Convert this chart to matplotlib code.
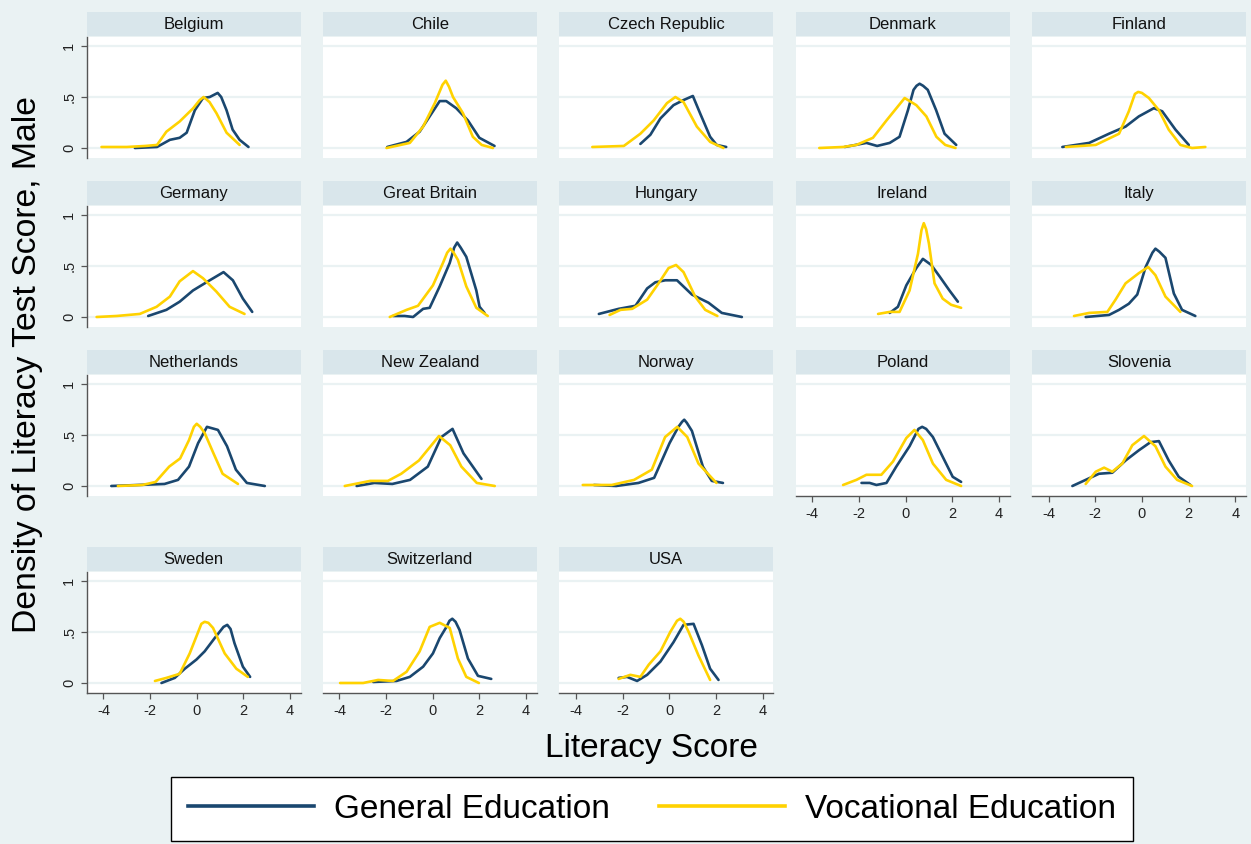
import matplotlib
matplotlib.use("Agg")
import matplotlib.pyplot as plt
from matplotlib.lines import Line2D
from matplotlib.patches import Rectangle

plt.rcParams["font.family"] = ["Liberation Sans", "DejaVu Sans"]

# ---------------- data ----------------
countries = ["Belgium", "Chile", "Czech Republic", "Denmark", "Finland",
             "Germany", "Great Britain", "Hungary", "Ireland", "Italy",
             "Netherlands", "New Zealand", "Norway", "Poland", "Slovenia",
             "Sweden", "Switzerland", "USA"]

general = {
    "Belgium": ([-2.65, -1.7, -1.15, -0.73, -0.43, -0.08, 0.27, 0.56, 0.9, 1.05, 1.28, 1.54, 1.84, 2.22],
                [0.0, 0.01, 0.08, 0.10, 0.15, 0.37, 0.49, 0.50, 0.54, 0.50, 0.37, 0.18, 0.08, 0.01]),
    "Chile": ([-1.95, -1.12, -0.56, -0.13, 0.30, 0.58, 1.01, 1.51, 2.0, 2.65],
              [0.01, 0.06, 0.16, 0.31, 0.46, 0.46, 0.39, 0.27, 0.10, 0.02]),
    "Czech Republic": ([-1.24, -0.81, -0.38, 0.18, 0.61, 1.01, 1.32, 1.75, 2.03, 2.44],
                       [0.04, 0.13, 0.29, 0.42, 0.47, 0.51, 0.34, 0.11, 0.03, 0.01]),
    "Denmark": ([-2.61, -1.68, -1.22, -0.68, -0.26, 0.10, 0.34, 0.47, 0.6, 0.75, 0.95, 1.31, 1.67, 2.17],
                [0.01, 0.05, 0.02, 0.05, 0.11, 0.37, 0.57, 0.61, 0.63, 0.61, 0.57, 0.37, 0.14, 0.03]),
    "Finland": ([-3.41, -2.26, -1.41, -0.70, -0.13, 0.51, 0.87, 1.44, 2.01],
                [0.01, 0.05, 0.14, 0.21, 0.31, 0.39, 0.36, 0.18, 0.03]),
    "Germany": ([-2.08, -1.30, -0.73, -0.16, 0.56, 1.15, 1.55, 1.98, 2.38],
                [0.01, 0.07, 0.15, 0.26, 0.36, 0.44, 0.36, 0.18, 0.05]),
    "Great Britain": ([-1.70, -1.2, -0.84, -0.41, -0.13, 0.30, 0.73, 0.92, 1.05, 1.2, 1.44, 1.87, 2.01, 2.22],
                      [0.01, 0.01, 0.0, 0.08, 0.09, 0.30, 0.53, 0.68, 0.73, 0.68, 0.59, 0.26, 0.10, 0.04]),
    "Hungary": ([-3.02, -2.17, -1.45, -0.95, -0.60, -0.17, 0.33, 0.97, 1.68, 2.25, 3.11],
                [0.03, 0.08, 0.11, 0.28, 0.34, 0.36, 0.36, 0.22, 0.14, 0.04, 0.0]),
    "Ireland": ([-0.68, -0.33, 0.03, 0.46, 0.74, 1.10, 1.45, 1.88, 2.24],
                [0.04, 0.10, 0.31, 0.48, 0.57, 0.51, 0.40, 0.26, 0.15]),
    "Italy": ([-2.41, -1.41, -0.98, -0.56, -0.20, 0.16, 0.45, 0.58, 0.75, 1.01, 1.37, 1.72, 2.29],
              [0.0, 0.02, 0.07, 0.13, 0.22, 0.49, 0.63, 0.67, 0.64, 0.58, 0.23, 0.07, 0.01]),
    "Netherlands": ([-3.66, -1.38, -0.80, -0.33, 0.06, 0.44, 0.91, 1.30, 1.68, 2.15, 2.92],
                    [0.0, 0.02, 0.06, 0.19, 0.42, 0.58, 0.55, 0.39, 0.16, 0.03, 0.0]),
    "New Zealand": ([-3.26, -2.50, -1.73, -0.97, -0.21, 0.37, 0.85, 1.32, 2.09],
                    [0.0, 0.03, 0.02, 0.06, 0.19, 0.48, 0.56, 0.32, 0.07]),
    "Norway": ([-3.23, -2.28, -1.32, -0.65, 0.01, 0.39, 0.55, 0.64, 0.75, 0.97, 1.44, 1.82, 2.30],
               [0.01, 0.0, 0.03, 0.08, 0.42, 0.58, 0.63, 0.65, 0.62, 0.54, 0.19, 0.05, 0.03]),
    "Poland": ([-1.89, -1.54, -1.25, -0.82, -0.40, 0.17, 0.55, 0.71, 0.88, 1.17, 1.67, 2.02, 2.38],
               [0.03, 0.03, 0.01, 0.03, 0.19, 0.39, 0.56, 0.58, 0.56, 0.48, 0.25, 0.09, 0.04]),
    "Slovenia": ([-2.98, -2.41, -1.84, -1.27, -0.70, -0.13, 0.37, 0.73, 1.15, 1.58, 2.08],
                 [0.0, 0.06, 0.12, 0.13, 0.25, 0.35, 0.43, 0.44, 0.25, 0.09, 0.01]),
    "Sweden": ([-1.51, -0.94, -0.51, -0.01, 0.34, 0.77, 1.15, 1.31, 1.45, 1.62, 1.98, 2.29],
               [0.0, 0.05, 0.14, 0.23, 0.31, 0.44, 0.55, 0.57, 0.53, 0.39, 0.16, 0.06]),
    "Switzerland": ([-2.55, -1.55, -0.98, -0.41, 0.01, 0.30, 0.59, 0.72, 0.84, 0.98, 1.15, 1.51, 1.94, 2.51],
                    [0.01, 0.02, 0.06, 0.16, 0.29, 0.44, 0.55, 0.61, 0.63, 0.60, 0.52, 0.24, 0.07, 0.04]),
    "USA": ([-2.17, -1.81, -1.38, -0.95, -0.38, 0.18, 0.61, 1.04, 1.40, 1.75, 2.11],
            [0.05, 0.06, 0.02, 0.08, 0.21, 0.40, 0.57, 0.58, 0.37, 0.14, 0.03]),
}

vocational = {
    "Belgium": ([-4.08, -3.0, -2.2, -1.7, -1.3, -0.73, -0.15, 0.13, 0.3, 0.55, 0.85, 1.28, 1.84],
                [0.01, 0.01, 0.02, 0.03, 0.16, 0.26, 0.39, 0.47, 0.50, 0.45, 0.34, 0.15, 0.03]),
    "Chile": ([-1.98, -0.98, -0.41, 0.09, 0.42, 0.56, 0.70, 0.87, 1.3, 1.72, 2.1, 2.58],
              [0.0, 0.05, 0.21, 0.44, 0.62, 0.66, 0.60, 0.50, 0.34, 0.11, 0.03, 0.0]),
    "Czech Republic": ([-3.30, -1.95, -1.24, -0.67, -0.10, 0.26, 0.61, 1.18, 1.75, 2.32],
                       [0.01, 0.02, 0.14, 0.27, 0.44, 0.50, 0.45, 0.21, 0.06, 0.0]),
    "Denmark": ([-3.70, -2.68, -2.11, -1.40, -0.82, -0.04, 0.46, 0.89, 1.32, 1.7, 2.14],
                [0.0, 0.01, 0.03, 0.10, 0.27, 0.49, 0.42, 0.31, 0.11, 0.03, 0.0]),
    "Finland": ([-3.26, -1.98, -0.98, -0.56, -0.30, -0.16, 0.0, 0.30, 0.73, 1.15, 1.65, 2.15, 2.72],
                [0.01, 0.03, 0.14, 0.36, 0.53, 0.55, 0.54, 0.49, 0.37, 0.18, 0.03, 0.0, 0.01]),
    "Germany": ([-4.29, -3.43, -2.44, -1.72, -1.15, -0.73, -0.16, 0.27, 0.84, 1.41, 2.05],
                [0.0, 0.01, 0.03, 0.10, 0.20, 0.35, 0.45, 0.38, 0.25, 0.10, 0.03]),
    "Great Britain": ([-1.84, -1.12, -0.63, 0.01, 0.44, 0.62, 0.76, 0.9, 1.08, 1.44, 1.87, 2.36],
                      [0.0, 0.07, 0.11, 0.31, 0.53, 0.63, 0.67, 0.63, 0.56, 0.30, 0.09, 0.01]),
    "Hungary": ([-2.56, -2.09, -1.59, -0.95, -0.46, -0.03, 0.29, 0.61, 1.11, 1.54, 2.06],
                [0.02, 0.07, 0.08, 0.17, 0.33, 0.48, 0.51, 0.44, 0.20, 0.07, 0.01]),
    "Ireland": ([-1.18, -0.68, -0.26, 0.17, 0.53, 0.68, 0.78, 0.88, 1.0, 1.24, 1.59, 1.95, 2.38],
                [0.03, 0.05, 0.05, 0.26, 0.62, 0.85, 0.92, 0.86, 0.72, 0.33, 0.18, 0.12, 0.09]),
    "Italy": ([-2.91, -2.26, -1.48, -1.13, -0.70, -0.13, 0.27, 0.58, 1.01, 1.65],
              [0.01, 0.04, 0.05, 0.17, 0.33, 0.43, 0.49, 0.41, 0.20, 0.05]),
    "Netherlands": ([-3.38, -2.33, -1.76, -1.18, -0.71, -0.33, -0.12, 0.0, 0.15, 0.34, 0.72, 1.11, 1.77],
                    [0.0, 0.01, 0.04, 0.19, 0.27, 0.45, 0.58, 0.61, 0.58, 0.52, 0.32, 0.12, 0.02]),
    "New Zealand": ([-3.77, -2.68, -1.92, -1.35, -0.59, 0.27, 0.75, 1.23, 1.89, 2.66],
                    [0.0, 0.05, 0.05, 0.12, 0.25, 0.49, 0.40, 0.19, 0.03, 0.0]),
    "Norway": ([-3.71, -2.47, -1.51, -0.75, -0.18, 0.34, 0.77, 1.25, 2.02],
               [0.01, 0.01, 0.06, 0.16, 0.48, 0.58, 0.48, 0.22, 0.03]),
    "Poland": ([-2.68, -2.11, -1.68, -1.04, -0.54, 0.03, 0.38, 0.74, 1.17, 1.74, 2.38],
               [0.01, 0.06, 0.11, 0.11, 0.24, 0.47, 0.55, 0.45, 0.22, 0.06, 0.0]),
    "Slovenia": ([-2.41, -1.98, -1.62, -1.27, -0.84, -0.41, 0.09, 0.58, 1.01, 1.51, 2.15],
                 [0.02, 0.14, 0.18, 0.14, 0.22, 0.40, 0.49, 0.39, 0.19, 0.06, 0.0]),
    "Sweden": ([-1.79, -1.30, -0.73, -0.30, 0.2, 0.34, 0.5, 0.70, 1.20, 1.70, 2.19],
               [0.02, 0.05, 0.09, 0.29, 0.58, 0.60, 0.59, 0.54, 0.29, 0.14, 0.06]),
    "Switzerland": ([-3.97, -2.98, -2.34, -1.70, -1.12, -0.56, -0.13, 0.30, 0.73, 1.08, 1.44, 1.98],
                    [0.0, 0.0, 0.03, 0.02, 0.11, 0.31, 0.55, 0.59, 0.54, 0.24, 0.06, 0.0]),
    "USA": ([-2.17, -1.67, -1.24, -0.88, -0.38, 0.04, 0.33, 0.47, 0.62, 0.83, 1.25, 1.75],
            [0.04, 0.08, 0.06, 0.18, 0.31, 0.50, 0.61, 0.63, 0.60, 0.50, 0.27, 0.03]),
}

series_labels = ["General Education", "Vocational Education"]
x_ticks = [-4, -2, 0, 2, 4]
y_ticks = [0, 0.5, 1]
y_tick_labels = ["0", ".5", "1"]

# ---------------- styling ----------------
BG = "#EAF2F3"
STRIP = "#D9E6EB"
NAVY = "#1A476F"
GOLD = "#FFD200"
AXCOL = "#555555"

W, H = 1251, 844
fig = plt.figure(figsize=(W / 100, H / 100), dpi=100, facecolor=BG)

col_left = [86.7, 322.7, 559.3, 795.6, 1031.9]
panel_w = 214.0
row_zero = [148, 317, 486, 683]
unit = 102.0
ylo, yhi = -0.1, 1.085
xlo, xhi = -4.715, 4.458

bottom_panels = {"Poland", "Slovenia", "Sweden", "Switzerland", "USA"}

for i, name in enumerate(countries):
    if i >= 15:
        r, c = 3, i - 15
    else:
        r, c = divmod(i, 5)
    z = row_zero[r]
    top_px = z - yhi * unit
    bot_px = z - ylo * unit
    ax = fig.add_axes([col_left[c] / W, 1 - bot_px / H, panel_w / W, (bot_px - top_px) / H])
    ax.set_facecolor("white")
    ax.set_xlim(xlo, xhi)
    ax.set_ylim(ylo, yhi)
    for yv in y_ticks:
        ax.axhline(yv, color=BG, lw=1.6, zorder=1)
    gx, gy = general[name]
    vx, vy = vocational[name]
    ax.plot(gx, gy, color=NAVY, lw=1.9, zorder=3, solid_joinstyle="round", solid_capstyle="round")
    ax.plot(vx, vy, color=GOLD, lw=1.9, zorder=4, solid_joinstyle="round", solid_capstyle="round")
    for s in ax.spines.values():
        s.set_visible(False)
    if c == 0:
        ax.spines["left"].set_visible(True)
        ax.spines["left"].set_color(AXCOL)
        ax.spines["left"].set_linewidth(1.0)
        ax.set_yticks(y_ticks)
        ax.set_yticklabels(y_tick_labels, rotation=90, va="center", ha="right", fontsize=10.5)
        ax.tick_params(axis="y", length=4.5, width=0.9, color=AXCOL, pad=3, labelcolor="#222222")
    else:
        ax.set_yticks([])
    if name in bottom_panels:
        ax.spines["bottom"].set_visible(True)
        ax.spines["bottom"].set_color(AXCOL)
        ax.spines["bottom"].set_linewidth(1.0)
        ax.set_xticks(x_ticks)
        ax.set_xticklabels([str(t) for t in x_ticks], fontsize=10.5)
        ax.tick_params(axis="x", length=4.5, width=0.9, color=AXCOL, pad=3, labelcolor="#222222")
    else:
        ax.set_xticks([])
    # title strip
    st_top = z - 136
    st_h = 24
    fig.patches.append(Rectangle((col_left[c] / W, 1 - (st_top + st_h) / H), panel_w / W, st_h / H,
                                 transform=fig.transFigure, facecolor=STRIP, edgecolor="none", zorder=0))
    fig.text((col_left[c] + panel_w / 2) / W, 1 - (st_top + st_h / 2 + 0.5) / H, name,
             ha="center", va="center", fontsize=12, color="#111111")

fig.text(28 / W, 1 - 365 / H, "Density of Literacy Test Score, Male", rotation=90,
         ha="center", va="center", fontsize=24.3)
fig.text(651 / W, 1 - 748 / H, "Literacy Score", ha="center", va="center", fontsize=24)

handles = [Line2D([], [], color=NAVY, lw=2.6), Line2D([], [], color=GOLD, lw=2.6)]
leg = fig.legend(handles, series_labels, loc="center", bbox_to_anchor=(652 / W, 1 - 809 / H),
                 ncol=2, fontsize=24, frameon=True, fancybox=False, edgecolor="black",
                 framealpha=1.0, handlelength=3.8, handletextpad=0.6, columnspacing=1.45,
                 borderpad=0.5, borderaxespad=0)
leg.get_frame().set_linewidth(1.0)
leg.get_frame().set_facecolor("white")

fig.savefig("out.png", dpi=100, facecolor=BG)
